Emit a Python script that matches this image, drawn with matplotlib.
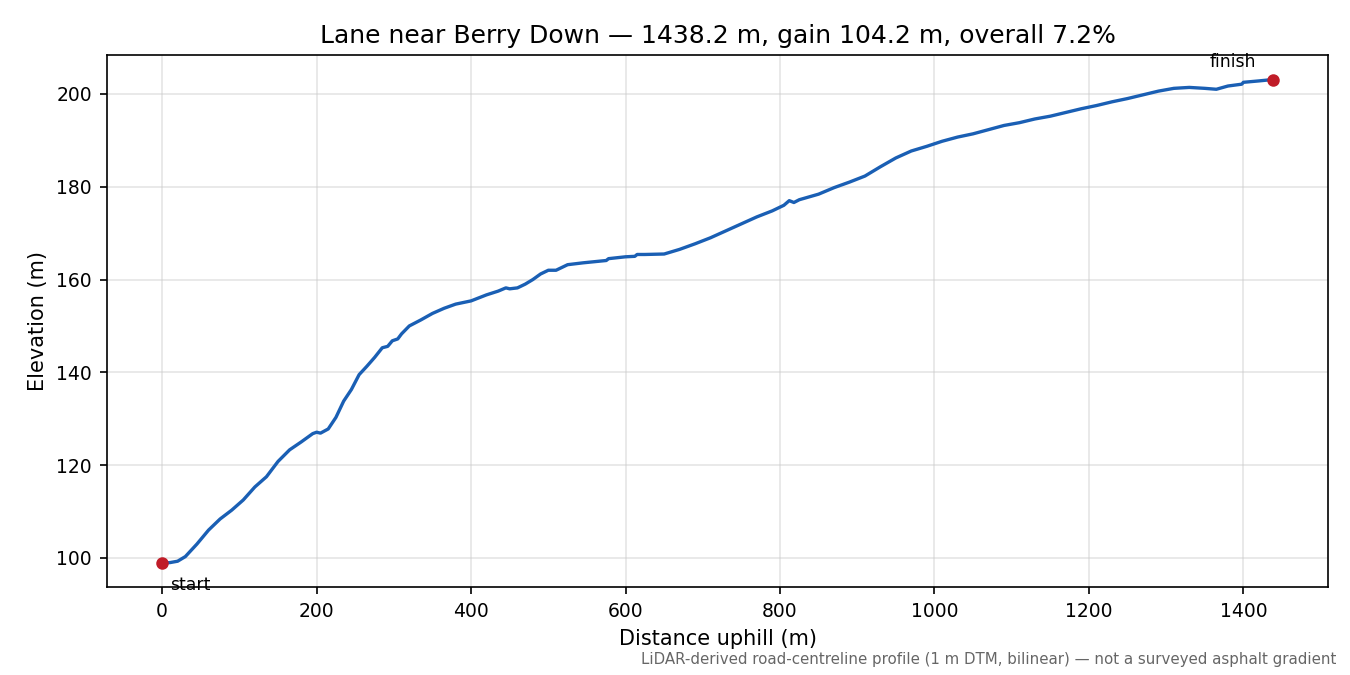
import numpy as np
import matplotlib
matplotlib.use("Agg")
import matplotlib.pyplot as plt

# profile (distance along lane, elevation)
dist = [0, 10, 20, 30, 45, 60, 75, 90, 105, 120, 135, 150, 165, 180, 195, 200,
        205, 215, 225, 235, 245, 255, 265, 275, 285, 292, 298, 305, 310, 320,
        335, 350, 365, 380, 400, 420, 435, 445, 450, 460, 470, 480, 490, 500,
        510, 525, 545, 575, 578, 600, 612, 615, 625, 650, 670, 690, 710, 730,
        750, 770, 790, 805, 812, 818, 825, 850, 870, 890, 910, 930, 950, 970,
        990, 1010, 1030, 1050, 1070, 1090, 1110, 1130, 1150, 1170, 1190, 1210,
        1230, 1250, 1270, 1290, 1310, 1330, 1350, 1365, 1380, 1398, 1400,
        1420, 1438.2]
elev = [98.9, 99.0, 99.3, 100.3, 103.0, 106.0, 108.4, 110.3, 112.5, 115.3,
        117.5, 120.8, 123.3, 125.0, 126.8, 127.1, 126.9, 127.8, 130.3, 133.8,
        136.3, 139.5, 141.3, 143.2, 145.3, 145.6, 146.8, 147.2, 148.3, 150.0,
        151.3, 152.7, 153.8, 154.7, 155.4, 156.7, 157.5, 158.2, 158.0, 158.2,
        159.0, 160.0, 161.2, 162.0, 162.0, 163.2, 163.6, 164.1, 164.5, 164.9,
        165.0, 165.4, 165.4, 165.5, 166.5, 167.7, 169.0, 170.5, 172.0, 173.5,
        174.8, 176.0, 177.0, 176.6, 177.2, 178.4, 179.8, 181.0, 182.3, 184.3,
        186.2, 187.7, 188.7, 189.8, 190.7, 191.4, 192.3, 193.2, 193.8, 194.6,
        195.2, 196.0, 196.8, 197.5, 198.3, 199.0, 199.8, 200.6, 201.2, 201.4,
        201.2, 201.0, 201.7, 202.1, 202.5, 202.8, 203.1]

dist = np.array(dist)
elev = np.array(elev)
length = dist[-1]
gain = elev[-1] - elev[0]

fig, ax = plt.subplots(figsize=(9, 4.5), dpi=150)
ax.plot(dist, elev, color="#1a5fb4", lw=1.6)
ax.plot([dist[0], dist[-1]], [elev[0], elev[-1]], "o", color="#c01c28", ms=5)
ax.annotate("start", (dist[0], elev[0]), xytext=(4, -13),
            textcoords="offset points", ha="left", fontsize=8.3)
ax.annotate("finish", (dist[-1], elev[-1]), xytext=(-8, 6),
            textcoords="offset points", ha="right", fontsize=8.3)

ax.set_title(f"Lane near Berry Down \u2014 {length:.1f} m, gain {gain:.1f} m, "
             f"overall {gain / length * 100:.1f}%", fontsize=12)
ax.set_xlabel("Distance uphill (m)", fontsize=10)
ax.set_ylabel("Elevation (m)", fontsize=10)
ax.tick_params(labelsize=9)
ax.grid(True, color="#cccccc", alpha=0.5, lw=0.8)

fig.subplots_adjust(left=0.079, right=0.984, top=0.918, bottom=0.13)
fig.text(0.99, 0.012, "LiDAR-derived road-centreline profile (1 m DTM, bilinear) "
         "\u2014 not a surveyed asphalt gradient", ha="right", va="bottom",
         fontsize=7.2, color="#666666")
fig.savefig("out.png", dpi=150)
